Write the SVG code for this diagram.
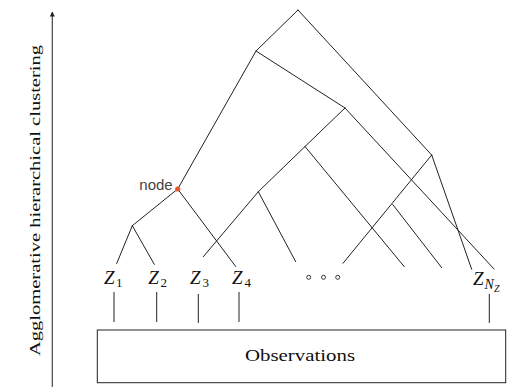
<svg xmlns="http://www.w3.org/2000/svg" width="507" height="387" viewBox="0 0 507 387">
<defs>
<style>
.ln{stroke:#222;stroke-width:1;fill:none;stroke-linecap:round}
.tk{stroke:#222;stroke-width:1;fill:none}
.mz{font-family:"Liberation Serif",serif;font-style:italic;font-size:19px;fill:#111}
.ms{font-family:"Liberation Serif",serif;font-size:13px;fill:#111}
.rm{font-family:"Liberation Serif",serif;fill:#111}
</style>
<marker id="ah" viewBox="0 0 10 10" refX="9" refY="5" markerWidth="5" markerHeight="7" markerUnits="userSpaceOnUse" orient="auto">
<path d="M0,0 L10,5 L0,10 z" fill="#222"/>
</marker>
</defs>
<rect width="507" height="387" fill="#fff"/>
<g id="axis">
<line x1="52.3" y1="387" x2="52.3" y2="12" stroke="#444" stroke-width="1.2" marker-end="url(#ah)"/>
<text class="rm" font-size="15" fill="#333" transform="translate(40,356) rotate(-90)" textLength="311" lengthAdjust="spacingAndGlyphs">Agglomerative hierarchical clustering</text>
</g>
<g id="connectors">
<line class="ln" x1="298" y1="10" x2="256" y2="51"/>
<line class="ln" x1="298" y1="10" x2="431.7" y2="155"/>
<line class="ln" x1="256" y1="51" x2="345" y2="108"/>
<line class="ln" x1="256" y1="51" x2="177.7" y2="189"/>
<line class="ln" x1="177.7" y1="189" x2="132.3" y2="225.7"/>
<line class="ln" x1="177.7" y1="189" x2="235.7" y2="266.5"/>
<line class="ln" x1="132.3" y1="225.7" x2="116.7" y2="263.5"/>
<line class="ln" x1="132.3" y1="225.7" x2="154.3" y2="264.3"/>
<line class="ln" x1="345" y1="108" x2="305" y2="146.5"/>
<line class="ln" x1="345" y1="108" x2="494" y2="269"/>
<line class="ln" x1="305" y1="146.5" x2="258.3" y2="191.7"/>
<line class="ln" x1="305" y1="146.5" x2="404.3" y2="266.7"/>
<line class="ln" x1="258.3" y1="191.7" x2="203.3" y2="256.7"/>
<line class="ln" x1="258.3" y1="191.7" x2="295.7" y2="261.7"/>
<line class="ln" x1="431.7" y1="155" x2="343" y2="263.3"/>
<line class="ln" x1="392.7" y1="204.5" x2="441.7" y2="267.7"/>
<line class="ln" x1="431.7" y1="155" x2="471.7" y2="269.3"/>
<line class="tk" x1="114" y1="292" x2="114" y2="322"/>
<line class="tk" x1="156.7" y1="292" x2="156.7" y2="322"/>
<line class="tk" x1="198.3" y1="294" x2="198.3" y2="323"/>
<line class="tk" x1="239" y1="292" x2="239" y2="322"/>
<line class="tk" x1="489.3" y1="294" x2="489.3" y2="323"/>
</g>
<g id="node-highlight">
<text x="139.3" y="190" font-family="Liberation Sans,Arial,sans-serif" font-size="15" fill="#444">node</text>
<circle cx="177.7" cy="189" r="2.6" fill="#e8552e"/>
</g>
<g id="leaf-z1"><text class="mz" x="104" y="283.5">Z</text><text class="ms" x="116" y="287">1</text></g>
<g id="leaf-z2"><text class="mz" x="148.3" y="283.5">Z</text><text class="ms" x="160.5" y="287">2</text></g>
<g id="leaf-z3"><text class="mz" x="190" y="283.5">Z</text><text class="ms" x="202.5" y="287">3</text></g>
<g id="leaf-z4"><text class="mz" x="232" y="283.5">Z</text><text class="ms" x="244.5" y="287">4</text></g>
<g id="leaf-dots" fill="none" stroke="#222" stroke-width="0.9">
<circle cx="308.7" cy="277.3" r="2"/>
<circle cx="323.5" cy="277.3" r="2"/>
<circle cx="337.7" cy="277.3" r="2"/>
</g>
<g id="leaf-zn"><text class="mz" x="473" y="284.5">Z<tspan style="font-size:14px" dy="4" dx="1">N</tspan><tspan style="font-size:10px" dy="3">Z</tspan></text></g>
<g id="observations">
<rect x="97.3" y="330" width="408.4" height="52.7" fill="#fff" stroke="#222" stroke-width="1"/>
<text class="rm" font-size="16" x="245" y="360.5" textLength="110" lengthAdjust="spacingAndGlyphs">Observations</text>
</g>
</svg>
